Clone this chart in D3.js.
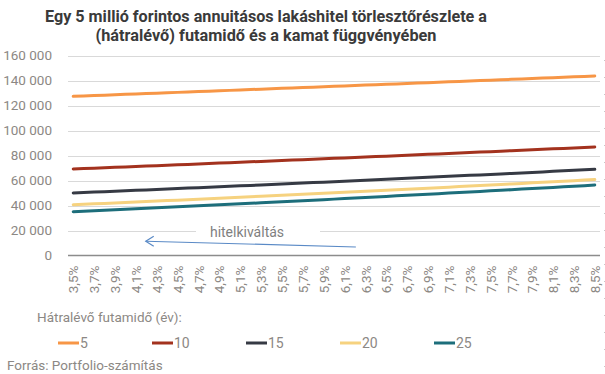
<!DOCTYPE html>
<html>
<head>
<meta charset="utf-8">
<script src="https://cdn.jsdelivr.net/npm/d3@7"></script>
<style>
  body { margin: 0; background: #fff; }
  svg { display: block; font-family: Roboto, "Open Sans", sans-serif; }
</style>
</head>
<body>
<script>
// kamat (x tengely kategóriák)
var rates = ["3,5%","3,6%","3,7%","3,8%","3,9%","4,0%","4,1%","4,2%","4,3%","4,4%",
             "4,5%","4,6%","4,7%","4,8%","4,9%","5,0%","5,1%","5,2%","5,3%","5,4%",
             "5,5%","5,6%","5,7%","5,8%","5,9%","6,0%","6,1%","6,2%","6,3%","6,4%",
             "6,5%","6,6%","6,7%","6,8%","6,9%","7,0%","7,1%","7,2%","7,3%","7,4%",
             "7,5%","7,6%","7,7%","7,8%","7,9%","8,0%","8,1%","8,2%","8,3%","8,4%","8,5%"];

// törlesztőrészlet (Ft/hó) futamidő szerint
var y5  = [127342,127657,127972,128286,128601,128916,129233,129550,129867,130184,
           130501,130821,131140,131460,131779,132099,132421,132742,133064,133385,
           133707,134032,134356,134681,135005,135330,135657,135983,136310,136636,
           136963,137292,137621,137949,138278,138607,138939,139271,139602,139934,
           140266,140600,140933,141267,141600,141934,142270,142606,142943,143279,143615];
var y10 = [69220,69550,69880,70211,70541,70871,71206,71541,71877,72212,
           72547,72887,73227,73566,73906,74246,74591,74935,75280,75624,
           75969,76318,76667,77017,77366,77715,78069,78423,78776,79130,
           79484,79842,80201,80559,80918,81276,81639,82002,82365,82728,
           83091,83459,83827,84194,84562,84930,85302,85674,86046,86418,86790];
var y15 = [50042,50389,50736,51084,51431,51778,52132,52486,52841,53195,
           53549,53910,54271,54633,54994,55355,55723,56091,56460,56828,
           57196,57571,57946,58320,58695,59070,59451,59833,60214,60596,
           60977,61365,61753,62142,62530,62918,63313,63707,64102,64496,
           64891,65292,65693,66094,66495,66896,67303,67710,68118,68525,68932];
var y20 = [40597,40961,41326,41690,42055,42419,42792,43165,43539,43912,
           44285,44667,45050,45432,45815,46197,46588,46979,47370,47761,
           48152,48552,48951,49351,49750,50150,50558,50966,51374,51782,
           52190,52606,53022,53439,53855,54271,54695,55119,55543,55967,
           56391,56823,57255,57687,58119,58551,58990,59429,59869,60308,60747];
var y25 = [35043,35424,35805,36187,36568,36949,37341,37733,38124,38516,
           38908,39311,39713,40116,40518,40921,41334,41747,42160,42573,
           42986,43409,43832,44255,44678,45101,45534,45967,46399,46832,
           47265,47707,48149,48591,49033,49475,49926,50377,50827,51278,
           51729,52189,52648,53108,53567,54027,54495,54963,55430,55898,56366];

var terms  = ["5", "10", "15", "20", "25"];
var colors = ["#f79646", "#a3321e", "#363a44", "#f6d27f", "#1d6e7b"];
var yTicks = [0, 20000, 40000, 60000, 80000, 100000, 120000, 140000, 160000];

var series = [y5, y10, y15, y20, y25];

var W = 605, H = 374;
var svg = d3.select("body").append("svg").attr("width", W).attr("height", H);

var x = d3.scalePoint().domain(rates).range([68, 600]).padding(0.5);
var y = d3.scaleLinear().domain([0, 160000]).range([255.5, 55.5]);

var huf = d3.formatLocale({decimal: ",", thousands: " ", grouping: [3], currency: ["", " Ft"]}).format(",d");

// cím
var title = svg.append("g").attr("fill", "#3a3a3a").attr("font-weight", 700).attr("font-size", 16.5)
    .attr("text-anchor", "middle");
title.append("text").attr("x", 266).attr("y", 21.5)
    .attr("textLength", 442).attr("lengthAdjust", "spacingAndGlyphs")
    .text("Egy 5 millió forintos annuitásos lakáshitel törlesztőrészlete a");
title.append("text").attr("x", 266).attr("y", 40.5)
    .attr("textLength", 341).attr("lengthAdjust", "spacingAndGlyphs")
    .text("(hátralévő) futamidő és a kamat függvényében");

// rácsvonalak
var grid = svg.append("g");
grid.selectAll("line").data(yTicks.filter(function(d){ return d > 0; }))
  .enter().append("line")
    .attr("x1", 68).attr("x2", 600)
    .attr("y1", function(d){ return Math.round(y(d)) + 0.5; })
    .attr("y2", function(d){ return Math.round(y(d)) + 0.5; })
    .attr("stroke", "#d9d9d9").attr("stroke-width", 1);

// y tengely
var yAxis = svg.append("g").attr("transform", "translate(68,0)")
    .call(d3.axisLeft(y).tickValues(yTicks).tickSize(0).tickPadding(16).tickFormat(huf));
yAxis.select(".domain").remove();
yAxis.selectAll("text").attr("fill", "#8c8884").attr("font-size", 13.5)
    .attr("font-family", "Roboto, sans-serif");

// x tengely
var xAxis = svg.append("g").attr("transform", "translate(0," + y(0) + ")")
    .call(d3.axisBottom(x).tickSize(0).tickValues(rates.filter(function(d, i){ return i % 2 === 0; })));
xAxis.select(".domain").attr("stroke", "#8c8c8c").attr("stroke-width", 1.5)
    .attr("d", "M68,0H600");
xAxis.selectAll("text")
    .attr("fill", "#8c8884").attr("font-size", 13.5).attr("font-family", "Roboto, sans-serif")
    .attr("text-anchor", "end").attr("dy", "0.35em")
    .attr("transform", "translate(0,10) rotate(-90)")
    .attr("x", 0).attr("y", 0);

// vonalak
var line = d3.line()
    .x(function(d, i){ return x(rates[i]); })
    .y(function(d){ return y(d); });

svg.append("g").selectAll("path").data(series)
  .enter().append("path")
    .attr("d", line)
    .attr("fill", "none")
    .attr("stroke", function(d, i){ return colors[i]; })
    .attr("stroke-width", 3)
    .attr("stroke-linecap", "round");

// hitelkiváltás felirat + nyíl
svg.append("rect").attr("x", 196).attr("y", y(21000)).attr("width", 124).attr("height", 18)
    .attr("fill", "#fff");
svg.append("text").attr("x", 247).attr("y", y(18400)).attr("dy", "0.35em")
    .attr("text-anchor", "middle").attr("font-size", 14).attr("fill", "#7f7f7f")
    .text("hitelkiváltás");

var ax1 = x("6,2%") + 1, ay1 = y(6800), ax2 = x("4,2%") - 0.5, ay2 = y(11400);
var arrow = svg.append("g").attr("stroke", "#5a8ac6").attr("fill", "none").attr("stroke-width", 1.2);
arrow.append("line").attr("x1", ax1).attr("y1", ay1).attr("x2", ax2).attr("y2", ay2);
arrow.append("path")
    .attr("d", "M" + (ax2 + 8) + "," + (ay2 - 5) + "L" + ax2 + "," + ay2 + "L" + (ax2 + 8) + "," + (ay2 + 5));

// jelmagyarázat
svg.append("text").attr("x", 37).attr("y", 317).attr("dy", "0.35em")
    .attr("font-size", 13.5).attr("fill", "#8c8884").text("Hátralévő futamidő (év):");

var leg = svg.append("g").selectAll("g").data(terms)
  .enter().append("g")
    .attr("transform", function(d, i){ return "translate(" + (58 + i * 94) + ",343)"; });
leg.append("line").attr("x1", 0).attr("x2", 21).attr("y1", 0).attr("y2", 0)
    .attr("stroke", function(d, i){ return colors[i]; }).attr("stroke-width", 3);
leg.append("text").attr("x", 22).attr("dy", "0.35em").attr("font-size", 14)
    .attr("fill", "#8c8884").text(function(d){ return d; });

// forrás
svg.append("text").attr("x", 7).attr("y", 365).attr("dy", "0.35em")
    .attr("font-size", 13.5).attr("fill", "#8c8884").text("Forrás: Portfolio-számítás");

// jobb szél szaggatott vonal
svg.append("line").attr("x1", 604.5).attr("x2", 604.5).attr("y1", 60).attr("y2", 374)
    .attr("stroke", "#c8c8c8").attr("stroke-dasharray", "1,16");
</script>
</body>
</html>
